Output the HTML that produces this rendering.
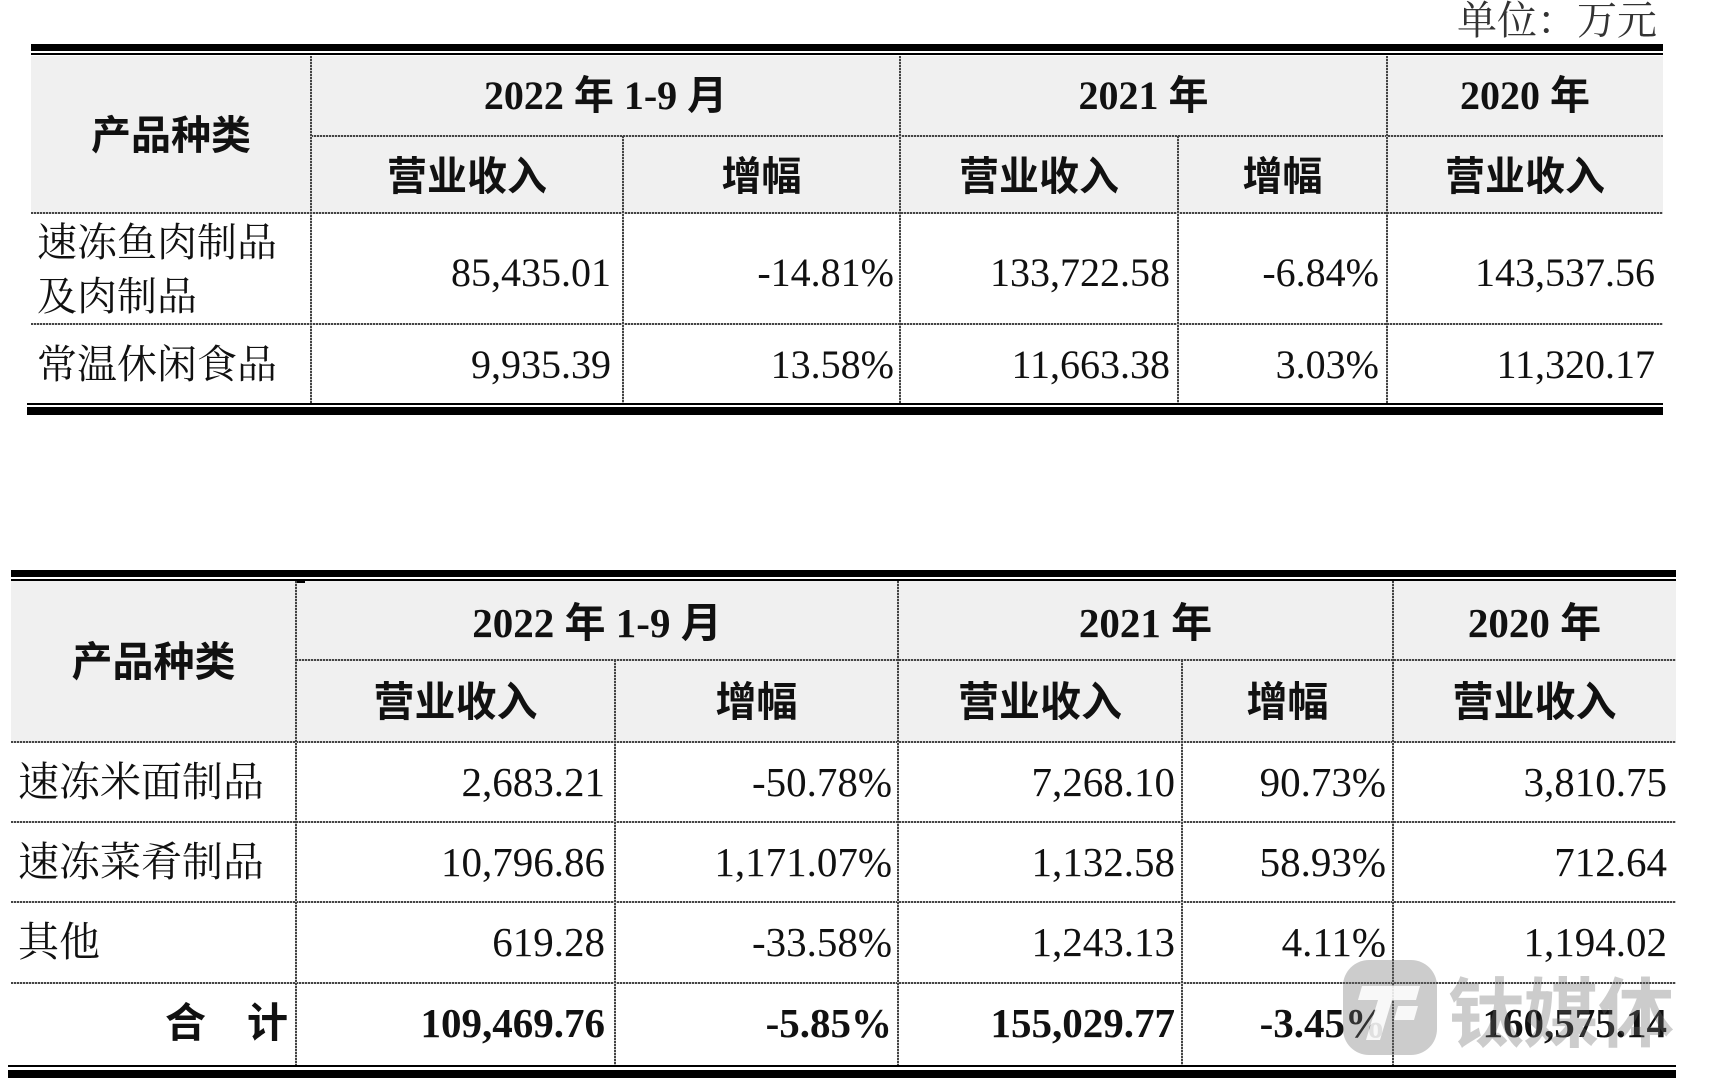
<!DOCTYPE html>
<html><head><meta charset="utf-8">
<style>
html,body{margin:0;padding:0;background:#fff;}
body{width:1710px;height:1086px;position:relative;overflow:hidden;}
.a{position:absolute;}
.blk{position:absolute;background:#000;}
.bg{position:absolute;background:#f0f0f0;}
.hd{position:absolute;height:2px;background:repeating-linear-gradient(90deg,#444 0 2px,#c8c8c8 2px 3px);}
.vd{position:absolute;width:2px;background:repeating-linear-gradient(180deg,#444 0 2px,#c8c8c8 2px 3px);}
.t{position:absolute;white-space:nowrap;color:#111;}
.h{font-family:"Liberation Serif","Noto Sans CJK SC",sans-serif;font-weight:700;text-align:center;}
.lab{font-family:"Liberation Serif","Noto Serif CJK SC",serif;font-weight:400;text-align:left;}
.n{font-family:"Liberation Serif","Noto Serif CJK SC",serif;text-align:right;}
.f1{font-size:40px;}
.f2{font-size:41px;}
.b{font-weight:700;}
</style></head><body>

<!-- unit -->
<div class="t f1" style="left:1400px;width:257px;top:1px;line-height:40px;text-align:right;font-family:'Liberation Serif','Noto Serif CJK SC',serif;color:#333;">单位：万元</div>

<!-- ================= TABLE 1 ================= -->
<div class="bg" style="left:31px;top:56px;width:1632px;height:157px;"></div>
<div class="blk" style="left:31px;top:44px;width:1632px;height:7px;"></div>
<div class="blk" style="left:31px;top:53px;width:1632px;height:2px;"></div>

<div class="hd" style="left:311px;top:135px;width:1352px;"></div>
<div class="hd" style="left:31px;top:212px;width:1632px;"></div>
<div class="hd" style="left:31px;top:323px;width:1632px;"></div>

<div class="vd" style="left:310px;top:56px;height:347px;"></div>
<div class="vd" style="left:899px;top:56px;height:347px;"></div>
<div class="vd" style="left:1386px;top:56px;height:347px;"></div>
<div class="vd" style="left:622px;top:136px;height:267px;"></div>
<div class="vd" style="left:1177px;top:136px;height:267px;"></div>

<div class="blk" style="left:27px;top:403px;width:1636px;height:2px;"></div>
<div class="blk" style="left:27px;top:407px;width:1636px;height:8px;"></div>

<!-- headers -->
<div class="t h f1" style="left:31px;width:280px;top:57px;height:157px;line-height:157px;">产品种类</div>
<div class="t h f1" style="left:311px;width:589px;top:56px;line-height:80px;">2022 年 1-9 月</div>
<div class="t h f1" style="left:900px;width:487px;top:56px;line-height:80px;">2021 年</div>
<div class="t h f1" style="left:1387px;width:276px;top:56px;line-height:80px;">2020 年</div>
<div class="t h f1" style="left:311px;width:312px;top:138px;line-height:77px;">营业收入</div>
<div class="t h f1" style="left:623px;width:277px;top:138px;line-height:77px;">增幅</div>
<div class="t h f1" style="left:900px;width:278px;top:138px;line-height:77px;">营业收入</div>
<div class="t h f1" style="left:1178px;width:209px;top:138px;line-height:77px;">增幅</div>
<div class="t h f1" style="left:1387px;width:276px;top:138px;line-height:77px;">营业收入</div>

<!-- row 1 -->
<div class="t lab f1" style="left:37px;top:216px;line-height:54px;white-space:normal;width:260px;">速冻鱼肉制品<br>及肉制品</div>
<div class="t n f1" style="left:311px;width:300px;top:217px;line-height:111px;">85,435.01</div>
<div class="t n f1" style="left:623px;width:271px;top:217px;line-height:111px;">-14.81%</div>
<div class="t n f1" style="left:900px;width:270px;top:217px;line-height:111px;">133,722.58</div>
<div class="t n f1" style="left:1178px;width:201px;top:217px;line-height:111px;">-6.84%</div>
<div class="t n f1" style="left:1387px;width:268px;top:217px;line-height:111px;">143,537.56</div>

<!-- row 2 -->
<div class="t lab f1" style="left:37px;top:326px;line-height:78px;">常温休闲食品</div>
<div class="t n f1" style="left:311px;width:300px;top:326px;line-height:78px;">9,935.39</div>
<div class="t n f1" style="left:623px;width:271px;top:326px;line-height:78px;">13.58%</div>
<div class="t n f1" style="left:900px;width:270px;top:326px;line-height:78px;">11,663.38</div>
<div class="t n f1" style="left:1178px;width:201px;top:326px;line-height:78px;">3.03%</div>
<div class="t n f1" style="left:1387px;width:268px;top:326px;line-height:78px;">11,320.17</div>

<!-- ================= TABLE 2 ================= -->
<div class="bg" style="left:11px;top:581px;width:1665px;height:161px;"></div>
<div class="blk" style="left:11px;top:570px;width:1665px;height:7px;"></div>
<div class="blk" style="left:11px;top:579px;width:1665px;height:2px;"></div>
<div class="blk" style="left:296px;top:581px;width:9px;height:2px;"></div>

<div class="hd" style="left:296px;top:659px;width:1380px;"></div>
<div class="hd" style="left:11px;top:741px;width:1665px;"></div>
<div class="hd" style="left:11px;top:821px;width:1665px;"></div>
<div class="hd" style="left:11px;top:901px;width:1665px;"></div>
<div class="hd" style="left:11px;top:982px;width:1665px;"></div>

<div class="vd" style="left:295px;top:581px;height:484px;"></div>
<div class="vd" style="left:897px;top:581px;height:484px;"></div>
<div class="vd" style="left:1392px;top:581px;height:484px;"></div>
<div class="vd" style="left:614px;top:660px;height:405px;"></div>
<div class="vd" style="left:1181px;top:660px;height:405px;"></div>

<div class="blk" style="left:8px;top:1065px;width:1668px;height:2px;"></div>
<div class="blk" style="left:8px;top:1070px;width:1668px;height:8px;"></div>

<!-- headers -->
<div class="t h f2" style="left:11px;width:285px;top:582px;height:161px;line-height:161px;">产品种类</div>
<div class="t h f2" style="left:296px;width:602px;top:583px;line-height:80px;">2022 年 1-9 月</div>
<div class="t h f2" style="left:898px;width:495px;top:583px;line-height:80px;">2021 年</div>
<div class="t h f2" style="left:1393px;width:283px;top:583px;line-height:80px;">2020 年</div>
<div class="t h f2" style="left:296px;width:319px;top:662px;line-height:80px;">营业收入</div>
<div class="t h f2" style="left:615px;width:283px;top:662px;line-height:80px;">增幅</div>
<div class="t h f2" style="left:898px;width:284px;top:662px;line-height:80px;">营业收入</div>
<div class="t h f2" style="left:1182px;width:211px;top:662px;line-height:80px;">增幅</div>
<div class="t h f2" style="left:1393px;width:283px;top:662px;line-height:80px;">营业收入</div>

<!-- rows -->
<div class="t lab f2" style="left:18px;top:742px;line-height:80px;">速冻米面制品</div>
<div class="t n f2" style="left:296px;width:309px;top:742px;line-height:80px;">2,683.21</div>
<div class="t n f2" style="left:615px;width:277px;top:742px;line-height:80px;">-50.78%</div>
<div class="t n f2" style="left:898px;width:277px;top:742px;line-height:80px;">7,268.10</div>
<div class="t n f2" style="left:1182px;width:204px;top:742px;line-height:80px;">90.73%</div>
<div class="t n f2" style="left:1393px;width:274px;top:742px;line-height:80px;">3,810.75</div>

<div class="t lab f2" style="left:18px;top:822px;line-height:80px;">速冻菜肴制品</div>
<div class="t n f2" style="left:296px;width:309px;top:822px;line-height:80px;">10,796.86</div>
<div class="t n f2" style="left:615px;width:277px;top:822px;line-height:80px;">1,171.07%</div>
<div class="t n f2" style="left:898px;width:277px;top:822px;line-height:80px;">1,132.58</div>
<div class="t n f2" style="left:1182px;width:204px;top:822px;line-height:80px;">58.93%</div>
<div class="t n f2" style="left:1393px;width:274px;top:822px;line-height:80px;">712.64</div>

<div class="t lab f2" style="left:18px;top:902px;line-height:80px;">其他</div>
<div class="t n f2" style="left:296px;width:309px;top:902px;line-height:80px;">619.28</div>
<div class="t n f2" style="left:615px;width:277px;top:902px;line-height:80px;">-33.58%</div>
<div class="t n f2" style="left:898px;width:277px;top:902px;line-height:80px;">1,243.13</div>
<div class="t n f2" style="left:1182px;width:204px;top:902px;line-height:80px;">4.11%</div>
<div class="t n f2" style="left:1393px;width:274px;top:902px;line-height:80px;">1,194.02</div>

<div class="t f2 b" style="left:100px;width:188px;top:983px;line-height:80px;text-align:right;font-family:'Liberation Serif','Noto Sans CJK SC',sans-serif;">合　计</div>
<div class="t n f2 b" style="left:296px;width:309px;top:983px;line-height:80px;">109,469.76</div>
<div class="t n f2 b" style="left:615px;width:277px;top:983px;line-height:80px;">-5.85%</div>
<div class="t n f2 b" style="left:898px;width:277px;top:983px;line-height:80px;">155,029.77</div>
<div class="t n f2 b" style="left:1182px;width:204px;top:983px;line-height:80px;">-3.45%</div>
<div class="t n f2 b" style="left:1393px;width:274px;top:983px;line-height:80px;">160,575.14</div>

<!-- watermark -->
<svg class="a" style="left:1340px;top:956px;" width="104" height="104" viewBox="0 0 104 104">
  <rect x="3" y="4" width="94" height="95" rx="26" ry="26" fill="rgba(110,110,110,0.35)"/>
  <path d="M22 30 L80 30 L76 44 L52 44 L40 84 L26 84 L38 44 L18 44 Z" fill="rgba(255,255,255,0.85)"/>
  <path d="M58 50 L78 50 L74 64 L54 64 Z" fill="rgba(255,255,255,0.85)"/>
</svg>
<div class="t" style="left:1448px;top:968px;line-height:80px;font-size:76px;font-weight:700;font-family:'Noto Sans CJK SC',sans-serif;color:rgba(110,110,110,0.35);letter-spacing:-1px;">钛媒体</div>

</body></html>
